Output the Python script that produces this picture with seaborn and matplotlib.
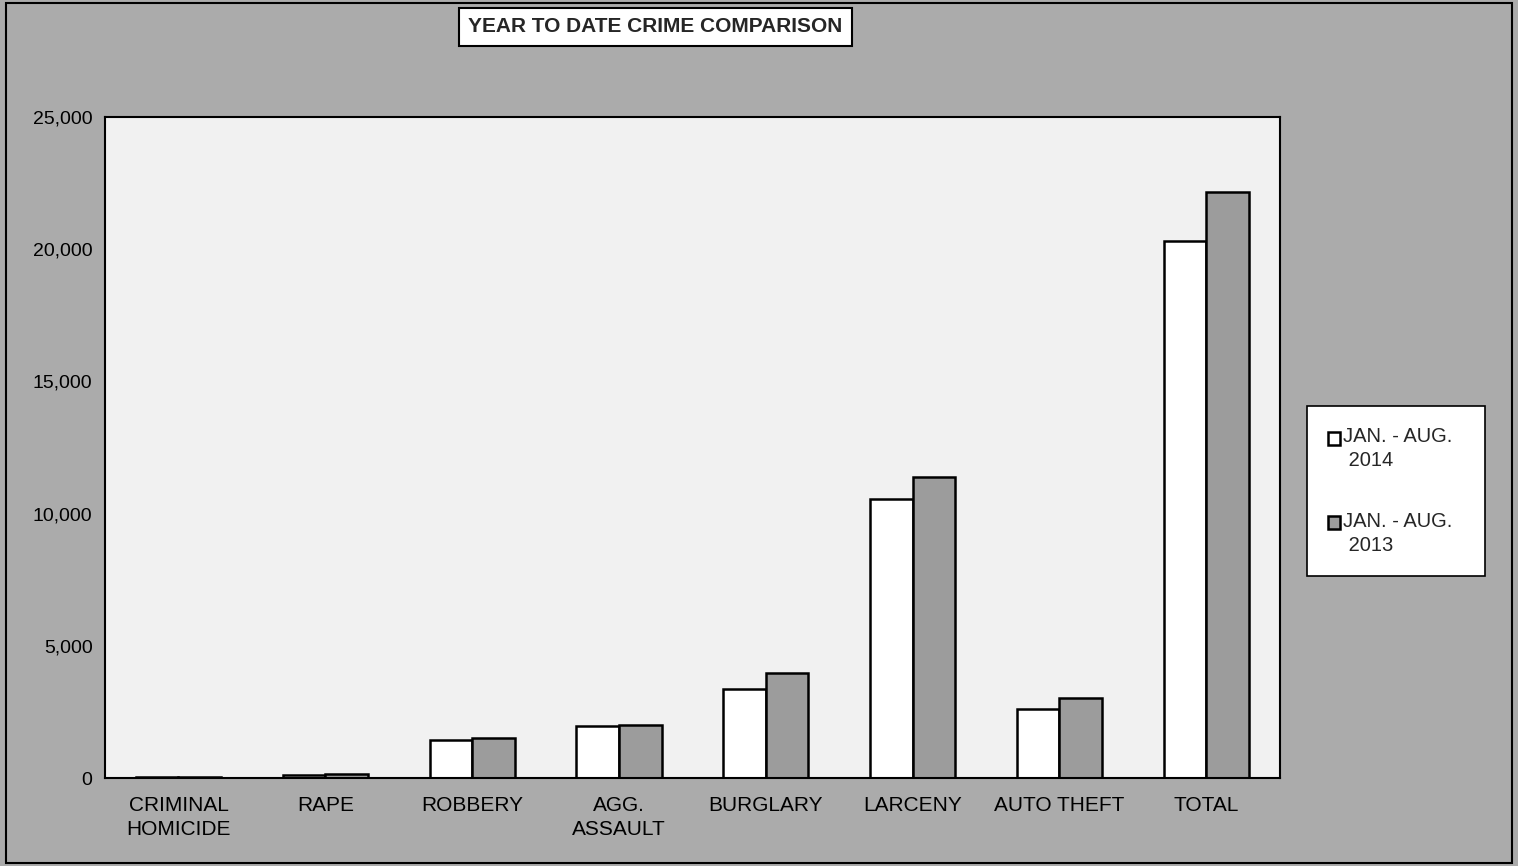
import matplotlib.pyplot as plt
from matplotlib.patches import Rectangle
from matplotlib.ticker import FuncFormatter, FixedLocator
import seaborn as sns
import pandas as pd

categories = ['CRIMINAL\nHOMICIDE', 'RAPE', 'ROBBERY', 'AGG.\nASSAULT',
              'BURGLARY', 'LARCENY', 'AUTO THEFT', 'TOTAL']
series_names = ['JAN. - AUG.\n 2014', 'JAN. - AUG.\n 2013']
values_2014 = [42, 130, 1450, 1980, 3380, 10550, 2620, 20310]
values_2013 = [45, 140, 1530, 2000, 3970, 11380, 3040, 22170]

df = pd.DataFrame({
    'category': categories * 2,
    'period': [series_names[0]] * len(categories) + [series_names[1]] * len(categories),
    'count': values_2014 + values_2013,
})

sns.set_style('white')
plt.rcParams['font.family'] = ['Liberation Sans', 'DejaVu Sans']

fig = plt.figure(figsize=(15.18, 8.66), dpi=100, facecolor='#ababab')
ax = fig.add_axes([0.0692, 0.1016, 0.7738, 0.7634])
ax.set_facecolor('#f1f1f1')

sns.barplot(data=df, x='category', y='count', hue='period', order=categories,
            hue_order=series_names, palette={series_names[0]: 'white', series_names[1]: '#9c9c9c'},
            width=0.58, edgecolor='black', linewidth=1.8, saturation=1, ax=ax)

ax.set_ylim(0, 25000)
ax.set_xlim(-0.5, len(categories) - 0.5)
ax.set_yticks(range(0, 25001, 5000))
ax.yaxis.set_major_formatter(FuncFormatter(lambda v, p: f'{int(v):,}'))
ax.tick_params(axis='y', labelsize=14, length=5, width=1, direction='out', colors='black', pad=4)
ax.tick_params(axis='x', labelsize=15, length=0, pad=13, colors='black')
ax.xaxis.set_minor_locator(FixedLocator([i + 0.5 for i in range(len(categories) - 1)]))
ax.tick_params(axis='x', which='minor', length=6, width=0.8, direction='in', colors='#555555')
ax.set_xlabel('')
ax.set_ylabel('')
for lab in ax.get_xticklabels():
    lab.set_linespacing(1.36)

for s in ax.spines.values():
    s.set_visible(True)
    s.set_color('black')
    s.set_linewidth(1.5)

leg = ax.legend(loc='center left', bbox_to_anchor=(1.023, 0.434), frameon=True, fancybox=False,
                fontsize=14.5, handlelength=0.6, handleheight=0.6, handletextpad=0.15,
                labelspacing=2.05, borderpad=1.05, borderaxespad=0, title=None)
leg.get_frame().set_edgecolor('black')
leg.get_frame().set_linewidth(1.2)
leg.get_frame().set_facecolor('white')
leg.get_frame().set_alpha(1)
for t in leg.get_texts():
    t.set_linespacing(1.35)
    t.set_text(t.get_text().replace('AUG.', 'AUG.  '))
# markers sit level with the first line of each label
for h in leg.legend_handles:
    h.set_y(h.get_y() + 8)

fig.text(655 / 1518, 1 - 27 / 866, 'YEAR TO DATE CRIME COMPARISON', ha='center', va='center',
         fontsize=15, fontweight='bold',
         bbox=dict(boxstyle='square,pad=0.45', facecolor='white', edgecolor='black', linewidth=1.5))

fig.patches.append(Rectangle((0.004, 0.004), 0.992, 0.992, transform=fig.transFigure,
                             fill=False, edgecolor='black', linewidth=1.5))

fig.savefig('out.png', dpi=100, facecolor=fig.get_facecolor())
